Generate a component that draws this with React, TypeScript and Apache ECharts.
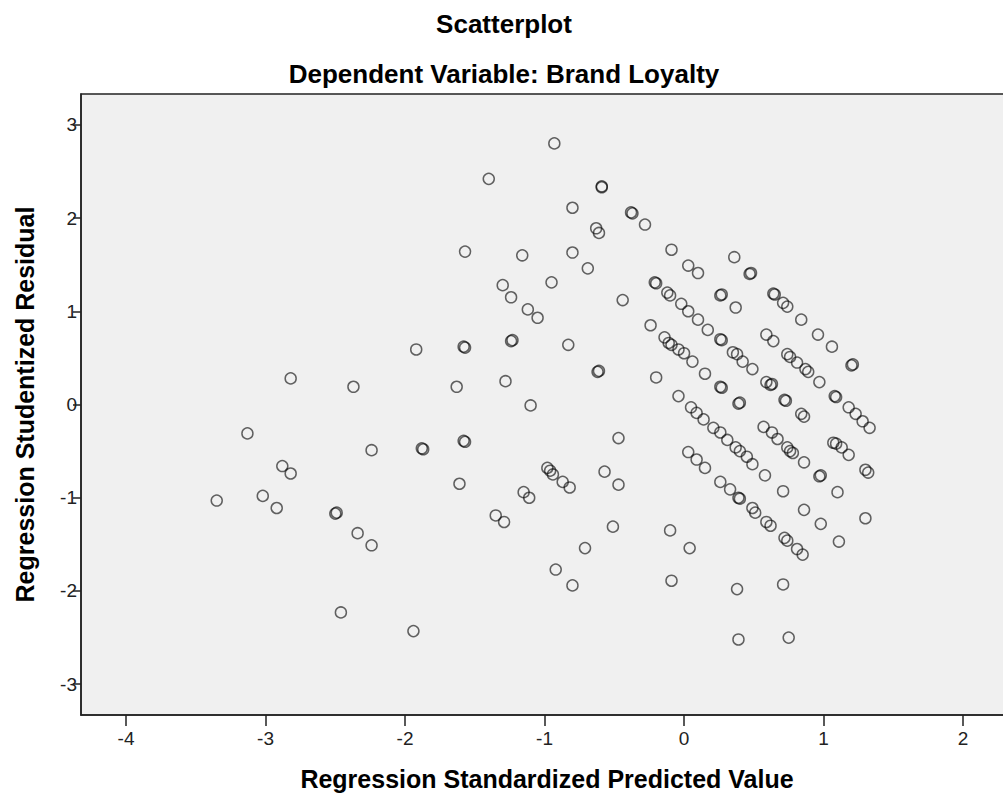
import React, { useEffect, useRef } from "react";
import * as echarts from "echarts";

const titleText = "Scatterplot";
const subtitleText = "Dependent Variable: Brand Loyalty";
const xName = "Regression Standardized Predicted Value";
const yName = "Regression Studentized Residual";

const xTickValues = [-4, -3, -2, -1, 0, 1, 2];
const yTickValues = [-3, -2, -1, 0, 1, 2, 3];

const predicted = [
  -3.35, -3.13, -3.02, -2.92, -2.88, -2.82, -2.82, -2.5, -2.49, -2.46, -2.37, -2.34, -2.24, -2.24,
  -1.94, -1.92, -1.88, -1.87, -1.63, -1.61, -1.57, -1.57, -1.58, -1.57, -1.58, -1.4, -1.35, -1.29,
  -1.3, -1.28, -1.24, -1.24, -1.23, -1.16, -1.15, -1.11, -1.12, -1.1, -1.05, -0.98, -0.96, -0.94,
  -0.95, -0.93, -0.92, -0.87, -0.82, -0.83, -0.8, -0.8, -0.8, -0.71, -0.69, -0.63, -0.61, -0.62,
  -0.61, -0.59, -0.59, -0.57, -0.51, -0.47, -0.47, -0.44, -0.38, -0.37, -0.28, -0.24, -0.21, -0.2,
  -0.2, -0.12, -0.1, -0.14, -0.11, -0.09, -0.1, -0.09, -0.09, -0.04, 0.0, -0.04, -0.02, 0.03,
  0.1, 0.03, 0.1, 0.04, 0.06, 0.05, 0.09, 0.14, 0.03, 0.09, 0.15, 0.17, 0.15, 0.21,
  0.26, 0.31, 0.37, 0.4, 0.45, 0.49, 0.58, 0.26, 0.27, 0.26, 0.27, 0.26, 0.27, 0.26,
  0.33, 0.39, 0.4, 0.49, 0.51, 0.59, 0.62, 0.72, 0.74, 0.81, 0.85, 0.36, 0.37, 0.35,
  0.38, 0.42, 0.49, 0.39, 0.4, 0.38, 0.39, 0.47, 0.48, 0.57, 0.63, 0.67, 0.74, 0.76,
  0.78, 0.59, 0.64, 0.59, 0.62, 0.63, 0.64, 0.65, 0.71, 0.74, 0.71, 0.71, 0.72, 0.73,
  0.74, 0.76, 0.81, 0.87, 0.89, 0.97, 0.75, 0.84, 0.84, 0.86, 0.86, 0.86, 0.96, 1.06,
  0.97, 0.98, 0.98, 1.07, 1.09, 1.13, 1.18, 1.08, 1.09, 1.1, 1.11, 1.18, 1.23, 1.28,
  1.33, 1.2, 1.21, 1.3, 1.32, 1.3,
];

const residual = [
  -1.03, -0.31, -0.98, -1.11, -0.66, -0.74, 0.28, -1.17, -1.16, -2.23, 0.19, -1.38, -1.51, -0.49,
  -2.43, 0.59, -0.47, -0.48, 0.19, -0.85, 1.64, 0.61, 0.62, -0.4, -0.39, 2.42, -1.19, -1.26,
  1.28, 0.25, 1.15, 0.68, 0.69, 1.6, -0.94, -1.0, 1.02, -0.01, 0.93, -0.68, -0.71, -0.75,
  1.31, 2.8, -1.77, -0.83, -0.89, 0.64, 2.11, 1.63, -1.94, -1.54, 1.46, 1.89, 1.84, 0.35,
  0.36, 2.33, 2.34, -0.72, -1.31, -0.36, -0.86, 1.12, 2.06, 2.05, 1.93, 0.85, 1.31, 1.3,
  0.29, 1.2, 1.17, 0.72, 0.66, 0.64, -1.35, -1.89, 1.66, 0.59, 0.55, 0.09, 1.08, 1.0,
  0.91, 1.49, 1.41, -1.54, 0.46, -0.03, -0.09, -0.16, -0.51, -0.59, -0.68, 0.8, 0.33, -0.25,
  -0.3, -0.38, -0.46, -0.5, -0.56, -0.64, -0.76, 1.17, 1.18, 0.7, 0.69, 0.19, 0.18, -0.83,
  -0.91, -1.0, -1.01, -1.11, -1.16, -1.26, -1.3, -1.43, -1.46, -1.55, -1.61, 1.58, 1.04, 0.56,
  0.54, 0.46, 0.38, 0.01, 0.02, -1.98, -2.52, 1.4, 1.41, -0.24, -0.3, -0.37, -0.46, -0.5,
  -0.52, 0.75, 0.68, 0.24, 0.21, 0.22, 1.19, 1.18, 1.09, 1.05, -0.93, -1.93, 0.05, 0.04,
  0.54, 0.51, 0.45, 0.38, 0.35, 0.24, -2.5, 0.91, -0.1, -0.13, -0.62, -1.13, 0.75, 0.62,
  -0.77, -0.76, -1.28, -0.41, -0.42, -0.46, -0.54, 0.09, 0.08, -0.94, -1.47, -0.03, -0.1, -0.18,
  -0.25, 0.42, 0.43, -0.7, -0.73, -1.22,
];

const FONT = "'Liberation Sans', Arial, sans-serif";

export default function App() {
  const ref = useRef<HTMLDivElement>(null);

  useEffect(() => {
    if (!ref.current) return;
    const chart = echarts.init(ref.current, undefined, { renderer: "svg" });
    const points = predicted.map((x, i) => [x, residual[i]]);

    chart.setOption({
      animation: false,
      backgroundColor: "#ffffff",
      grid: {
        left: 81,
        top: 94,
        bottom: 80,
        right: 0,
        show: true,
        backgroundColor: "#f0f0f0",
        borderColor: "#222222",
        borderWidth: 1.5,
      },
      graphic: [
        {
          type: "text",
          x: 504,
          y: 24,
          style: {
            text: titleText,
            font: `bold 26px ${FONT}`,
            fill: "#000",
            textAlign: "center",
            textVerticalAlign: "middle",
          },
        },
        {
          type: "text",
          x: 504,
          y: 74,
          style: {
            text: subtitleText,
            font: `bold 26px ${FONT}`,
            fill: "#000",
            textAlign: "center",
            textVerticalAlign: "middle",
          },
        },
      ],
      xAxis: {
        type: "value",
        min: -4.323,
        max: 2.358,
        name: xName,
        nameLocation: "middle",
        nameGap: 51,
        nameTextStyle: { fontFamily: FONT, fontWeight: "bold", fontSize: 25, color: "#000" },
        axisLine: { show: true, onZero: false, lineStyle: { color: "#222", width: 1.5 } },
        axisTick: {
          show: true,
          inside: false,
          length: 11,
          customValues: xTickValues,
          lineStyle: { color: "#222", width: 1.5 },
        },
        axisLabel: {
          customValues: xTickValues,
          margin: 14,
          fontFamily: FONT,
          fontSize: 19,
          color: "#222",
        },
        splitLine: { show: false },
      },
      yAxis: {
        type: "value",
        min: -3.33,
        max: 3.33,
        name: yName,
        nameLocation: "middle",
        nameGap: 44,
        nameTextStyle: { fontFamily: FONT, fontWeight: "bold", fontSize: 25, color: "#000" },
        axisLine: { show: true, onZero: false, lineStyle: { color: "#222", width: 1.5 } },
        axisTick: {
          show: true,
          inside: false,
          length: 8,
          customValues: yTickValues,
          lineStyle: { color: "#222", width: 1.5 },
        },
        axisLabel: {
          customValues: yTickValues,
          margin: 4,
          fontFamily: FONT,
          fontSize: 19,
          color: "#222",
        },
        splitLine: { show: false },
      },
      series: [
        {
          type: "scatter",
          data: points,
          symbol: "circle",
          symbolSize: 11,
          itemStyle: {
            color: "rgba(0,0,0,0)",
            borderColor: "rgba(0,0,0,0.75)",
            borderWidth: 1.5,
          },
          emphasis: { disabled: true },
          clip: true,
        },
      ],
    });

    return () => {
      chart.dispose();
    };
  }, []);

  return (
    <div
      style={{
        position: "absolute",
        left: 0,
        top: 0,
        width: 1003,
        height: 796,
        overflow: "hidden",
      }}
    >
      <div ref={ref} style={{ width: 1013, height: 796 }} />
    </div>
  );
}
